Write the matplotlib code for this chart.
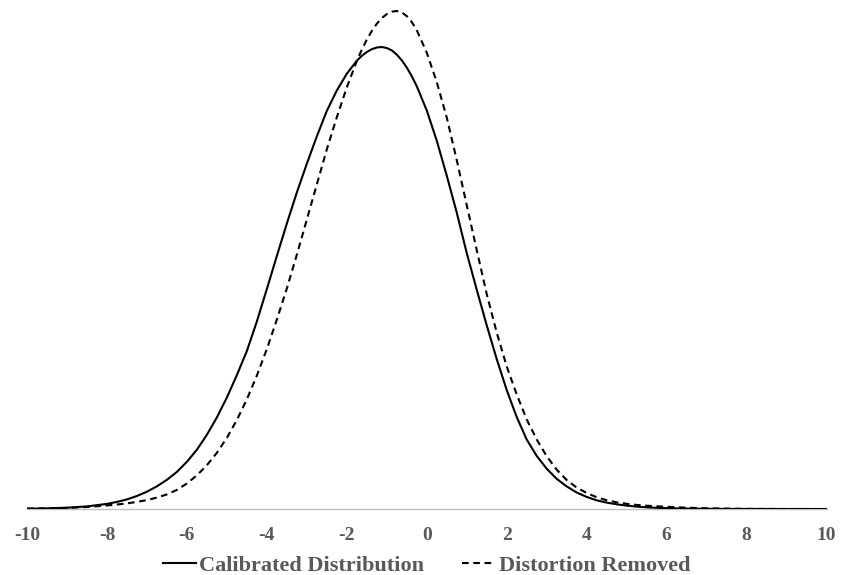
import matplotlib
matplotlib.use("Agg")
import matplotlib.pyplot as plt

x_values = [-10, -9.5, -9, -8.5, -8,
            -7.75, -7.5, -7.25, -7, -6.75, -6.5, -6.25, -6, -5.75, -5.5, -5.25, -5,
            -4.75, -4.5, -4.25, -4, -3.75, -3.5, -3.25, -3, -2.75, -2.5, -2.25, -2,
            -1.75, -1.625, -1.5, -1.375, -1.25, -1.125, -1, -0.875, -0.75, -0.625,
            -0.5, -0.375, -0.25, 0, 0.25, 0.5, 0.75, 1,
            1.25, 1.5, 1.75, 2, 2.25, 2.5, 2.75, 3, 3.25, 3.5, 3.75, 4,
            4.25, 4.5, 4.75, 5, 5.25, 5.5, 5.75, 6,
            6.5, 7, 7.5, 8, 9, 10]

# relative density (arbitrary units)
calibrated = [0.3, 0.6, 1.3, 2.6, 5.1,
              7.1, 9.6, 13.0, 17.3, 22.7, 29.2, 37.1, 47.2, 59.3, 74.2, 91.6, 111.5,
              133.9, 158.0, 187.5, 220.0, 253.0, 285.5, 316.5, 345.3, 372.6, 398.1, 418.5, 435.3,
              448.2, 453.2, 457.0, 459.8, 461.5, 462.0, 461.0, 458.6, 454.4, 448.7,
              441.5, 432.8, 422.8, 398.6, 368.4, 333.4, 296.5, 256.0,
              219.4, 183.7, 150.0, 119.0, 92.0, 69.5, 53.1, 40.3, 30.2, 22.6, 16.5, 12.1,
              8.7, 6.4, 4.7, 3.4, 2.4, 1.7, 1.2, 0.85,
              0.4, 0.2, 0.08, 0.03, 0.0, 0.0]

distortion_removed = [0.35, 0.65, 1.1, 2.0, 3.5,
                      4.5, 5.6, 7.1, 8.9, 11.4, 14.6, 19.1, 25.5, 33.7, 43.8, 56.2, 71.2,
                      89.0, 109.7, 133.4, 160.0, 189.4, 220.5, 254.3, 289.4, 324.5, 359.6, 391.7, 421.6,
                      448.0, 459.3, 469.4, 478.0, 485.2, 490.9, 494.9, 497.3, 498.0, 496.6,
                      492.9, 487.0, 478.8, 456.4, 427.0, 391.5, 349.0, 304.0,
                      259.0, 215.0, 176.5, 142.6, 114.6, 89.6, 69.6, 52.8, 39.4, 29.0, 21.5, 16.0,
                      11.8, 8.8, 6.7, 5.2, 4.1, 3.3, 2.7, 2.2,
                      1.3, 0.7, 0.35, 0.15, 0.02, 0.0]

tick_values = [-10, -8, -6, -4, -2, 0, 2, 4, 6, 8, 10]
tick_labels = ["-10", "-8", "-6", "-4", "-2", "0", "2", "4", "6", "8", "10"]
series_names = ["Calibrated Distribution", "Distortion Removed"]

W, H = 841, 575
fig = plt.figure(figsize=(W / 100, H / 100), dpi=100)
left = 27 / W
right = 826.5 / W
bottom = (H - 509) / H
top = (H - 5) / H
ax = fig.add_axes([left, bottom, right - left, top - bottom])

ax.plot(x_values, calibrated, color="black", lw=1.5, label=series_names[0],
        zorder=3, solid_joinstyle="round")
ax.plot(x_values, distortion_removed, color="black", lw=1.5, ls=(0, (3.2, 2.2)),
        label=series_names[1], zorder=3)

ax.set_xlim(-10, 10)
ax.set_ylim(0, 504)
for s in ["top", "right", "left"]:
    ax.spines[s].set_visible(False)
ax.spines["bottom"].set_color("#BFBFBF")
ax.spines["bottom"].set_linewidth(1.0)
ax.set_yticks([])
ax.set_xticks(tick_values)
ax.set_xticklabels(tick_labels, fontfamily="Liberation Serif", fontweight="bold",
                   fontsize=14, color="#595959")
ax.tick_params(axis="x", length=0, pad=13)

leg = fig.legend(loc="center", bbox_to_anchor=(0.5 + 6 / W, 1 - 566 / H), ncol=2,
                 frameon=False,
                 prop=dict(family="Liberation Serif", weight="bold", size=16),
                 handlelength=1.5, handletextpad=0.15, columnspacing=1.7,
                 borderpad=0.1)
for t in leg.get_texts():
    t.set_color("#595959")

fig.savefig("out.png", dpi=100)
